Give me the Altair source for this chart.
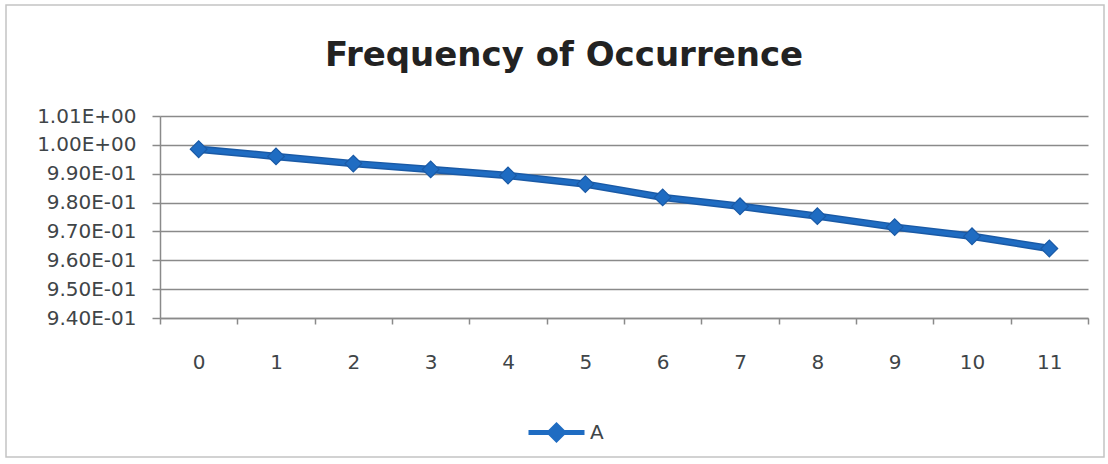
import altair as alt
import pandas as pd

categories = list(range(12))
values_a = [0.9985, 0.9960, 0.9935, 0.9915, 0.9894, 0.9864, 0.9818, 0.9787, 0.9753, 0.9715, 0.9683, 0.9641]
series_name = "A"
y_ticks = [0.94, 0.95, 0.96, 0.97, 0.98, 0.99, 1.00, 1.01]

df = pd.DataFrame({"x": categories, "y": values_a, "series": [series_name] * len(categories)})

BLUE = "#1f6cc2"
DARK_BLUE = "#1a5aa6"
GRAY = "#8a8a8a"
LABEL = "#3f4548"
FONT = "DejaVu Sans"
TITLE_FONT = "DejaVu Sans"

W, H = 928, 202
PAD = {"left": 160, "top": 116, "right": 20, "bottom": 146}

label_expr = ("datum.value >= 0.9999 ? format(datum.value, '.2f') + 'E+00' : "
              "format(datum.value * 10, '.2f') + 'E-01'")

x_enc = alt.X("x:O", bandPosition=0.5,
              scale=alt.Scale(type="band", paddingInner=0, paddingOuter=0),
              axis=alt.Axis(title=None, labelAngle=0, tickBand="extent", labelFontSize=20,
                            labelFont=FONT, labelColor=LABEL, labelPadding=28, tickSize=6,
                            tickColor=GRAY, domainColor=GRAY, domainWidth=1.5, tickWidth=1.5,
                            grid=False))
y_enc = alt.Y("y:Q", scale=alt.Scale(domain=[0.94, 1.01], nice=False, zero=False),
              axis=alt.Axis(title=None, values=y_ticks, labelExpr=label_expr, labelFontSize=20,
                            labelFont=FONT, labelColor=LABEL, labelPadding=16, tickSize=8,
                            tickColor=GRAY, domainColor=GRAY, domainWidth=1.5, tickWidth=1.5,
                            gridColor=GRAY, gridWidth=1.5, gridOpacity=1))

legend_path = "M-1,0H1M0,-0.25L0.25,0L0,0.25L-0.25,0Z"

line_outline = alt.Chart(df).mark_line(strokeWidth=7.5, color=DARK_BLUE).encode(x=x_enc, y=y_enc)

line = alt.Chart(df).mark_line(strokeWidth=4.5).encode(
    x=x_enc, y=y_enc,
    color=alt.Color("series:N", scale=alt.Scale(range=[BLUE]),
                    legend=alt.Legend(orient="none", legendX=366, legendY=286, title=None,
                                      padding=0, symbolType=legend_path, symbolSize=3136,
                                      symbolStrokeWidth=5, symbolFillColor=BLUE,
                                      symbolStrokeColor=BLUE, labelFontSize=20, labelFont=FONT,
                                      labelColor=LABEL, labelOffset=3)),
)
points = alt.Chart(df).mark_point(shape="diamond", filled=True, size=280, color=BLUE,
                                  opacity=1, stroke=DARK_BLUE, strokeWidth=1.2).encode(x=x_enc, y=y_enc)

border = alt.Chart(pd.DataFrame({"b": [0]})).mark_rect(fill="transparent", stroke="#c4c4c4",
                                                       strokeWidth=1.5).encode(
    x=alt.value(-154), x2=alt.value(944), y=alt.value(-111), y2=alt.value(341))

chart = alt.layer(border, line_outline, line, points).properties(
    width=W, height=H,
    padding=PAD,
    autosize=alt.AutoSizeParams(type="none"),
    title=alt.TitleParams("Frequency of Occurrence", fontSize=34, font=TITLE_FONT, fontWeight="bold",
                          color="#222222", anchor="middle", frame="group", dx=-60,
                          baseline="alphabetic", offset=-96),
    background="white",
).configure_view(strokeWidth=0)

chart.save("out.html", embed_options={"renderer": "svg", "actions": False})
